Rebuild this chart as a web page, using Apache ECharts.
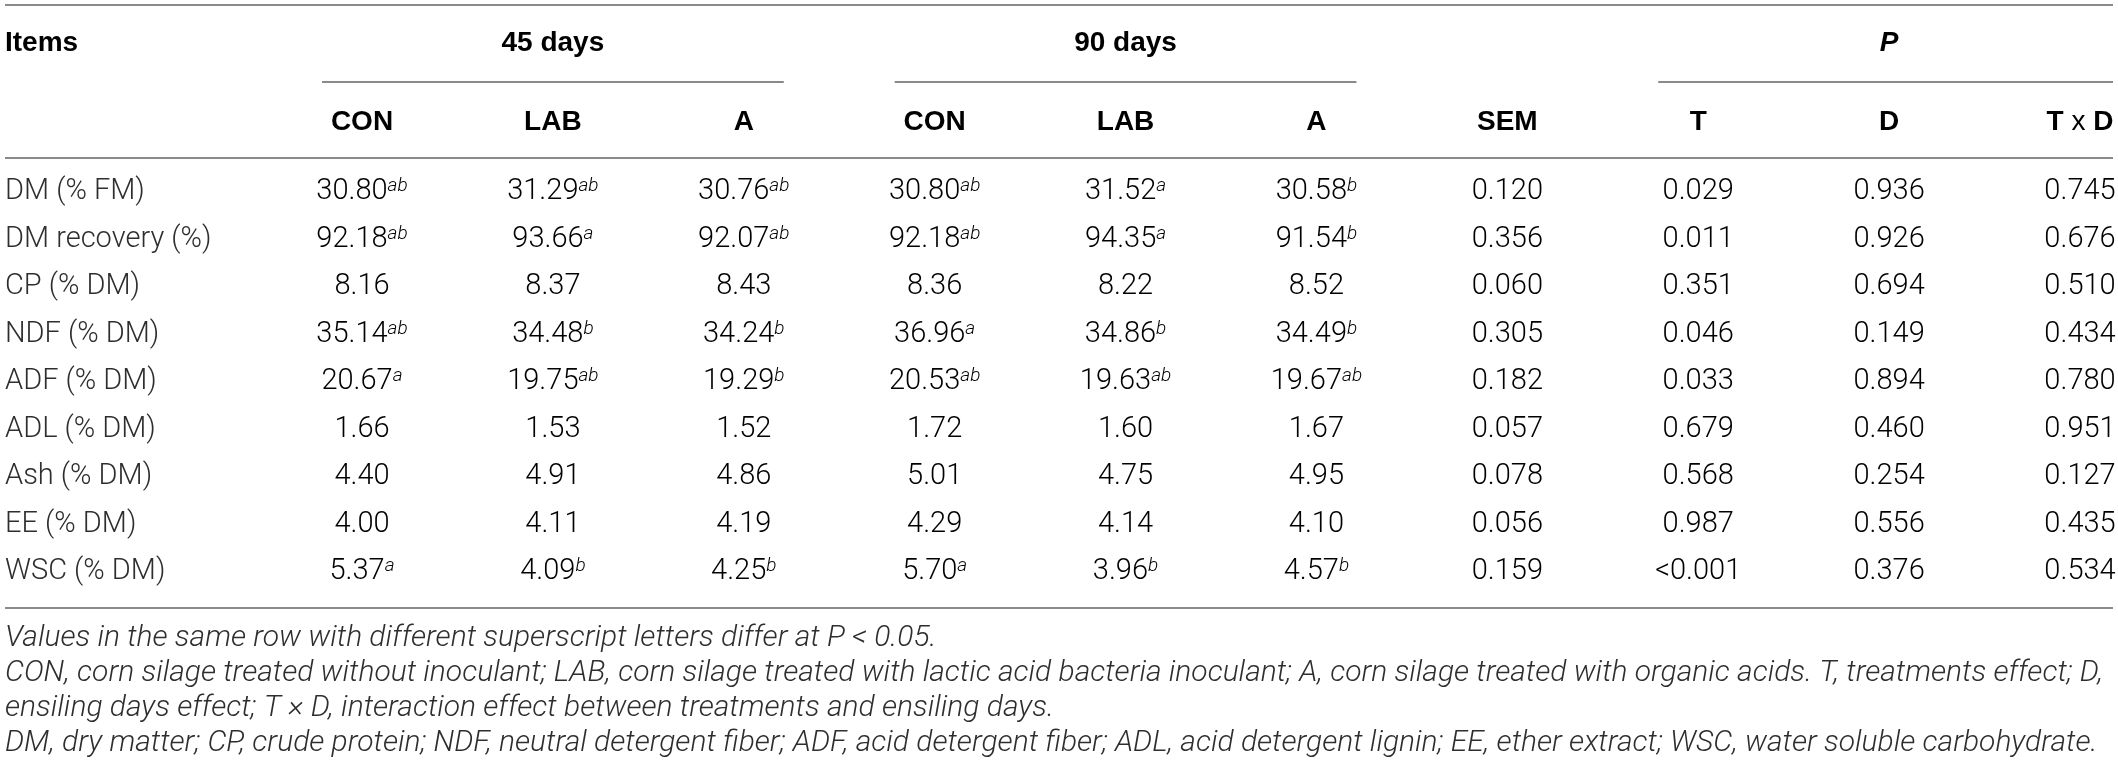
<!DOCTYPE html>
<html>
<head>
<meta charset="utf-8">
<script src="https://cdn.jsdelivr.net/npm/echarts@6/dist/echarts.min.js"></script>
<style>
html, body { margin: 0; padding: 0; background: #fff; }
#table { width: 2118px; height: 769px; }
</style>
</head>
<body>
<div id="table"></div>
<script>
// rows and columns of the table
var items = ['DM (% FM)', 'DM recovery (%)', 'CP (% DM)', 'NDF (% DM)', 'ADF (% DM)',
    'ADL (% DM)', 'Ash (% DM)', 'EE (% DM)', 'WSC (% DM)'];
var columns = ['CON', 'LAB', 'A', 'CON', 'LAB', 'A', 'SEM', 'T', 'D', 'T x D'];
var groups = [
    { name: '45 days', from: 0, to: 2 },
    { name: '90 days', from: 3, to: 5 },
    { name: 'P', from: 7, to: 9 }
];

// 45 days
var con45 = ['30.80', '92.18', '8.16', '35.14', '20.67', '1.66', '4.40', '4.00', '5.37'];
var con45Sup = ['ab', 'ab', '', 'ab', 'a', '', '', '', 'a'];
var lab45 = ['31.29', '93.66', '8.37', '34.48', '19.75', '1.53', '4.91', '4.11', '4.09'];
var lab45Sup = ['ab', 'a', '', 'b', 'ab', '', '', '', 'b'];
var a45 = ['30.76', '92.07', '8.43', '34.24', '19.29', '1.52', '4.86', '4.19', '4.25'];
var a45Sup = ['ab', 'ab', '', 'b', 'b', '', '', '', 'b'];

// 90 days
var con90 = ['30.80', '92.18', '8.36', '36.96', '20.53', '1.72', '5.01', '4.29', '5.70'];
var con90Sup = ['ab', 'ab', '', 'a', 'ab', '', '', '', 'a'];
var lab90 = ['31.52', '94.35', '8.22', '34.86', '19.63', '1.60', '4.75', '4.14', '3.96'];
var lab90Sup = ['a', 'a', '', 'b', 'ab', '', '', '', 'b'];
var a90 = ['30.58', '91.54', '8.52', '34.49', '19.67', '1.67', '4.95', '4.10', '4.57'];
var a90Sup = ['b', 'b', '', 'b', 'ab', '', '', '', 'b'];

var sem = ['0.120', '0.356', '0.060', '0.305', '0.182', '0.057', '0.078', '0.056', '0.159'];
var pT = ['0.029', '0.011', '0.351', '0.046', '0.033', '0.679', '0.568', '0.987', '<0.001'];
var pD = ['0.936', '0.926', '0.694', '0.149', '0.894', '0.460', '0.254', '0.556', '0.376'];
var pTD = ['0.745', '0.676', '0.510', '0.434', '0.780', '0.951', '0.127', '0.435', '0.534'];

var footnotes = [
    'Values in the same row with different superscript letters differ at P < 0.05.',
    'CON, corn silage treated without inoculant; LAB, corn silage treated with lactic acid bacteria inoculant; A, corn silage treated with organic acids. T, treatments effect; D,',
    'ensiling days effect; T \u00d7 D, interaction effect between treatments and ensiling days.',
    'DM, dry matter; CP, crude protein; NDF, neutral detergent fiber; ADF, acid detergent fiber; ADL, acid detergent lignin; EE, ether extract; WSC, water soluble carbohydrate.'
];
var justifiedNotes = [1]; // lines that run to the right edge in the source

var columnValues = [con45, lab45, a45, con90, lab90, a90, sem, pT, pD, pTD];
var columnSups = [con45Sup, lab45Sup, a45Sup, con90Sup, lab90Sup, a90Sup];

var cells = [];
columnValues.forEach(function (vals, c) {
    vals.forEach(function (v, r) {
        cells.push([c, r, v, (columnSups[c] || [])[r] || '']);
    });
});

// look of the table
var bodyFont = 'Roboto';
var headFont = '"Liberation Sans", Arial, sans-serif';
var bodyColor = '#2e2e2e';
var headColor = '#1a1a1a';
var ruleColor = '#8a8a8a';
var bodySize = 29;
var noteSize = 30;
var noteWidth = 2098;
var layout = { ruleLeft: 5, ruleRight: 5, topRule: 5, groupRule: 82, headRow1: 43, headRow2: 122, headRule: 158, bottomRule: 608, groupPad: 40 };

var richBody = {
    v: { fontFamily: bodyFont, fontWeight: 300, fontSize: bodySize, color: bodyColor, lineHeight: 30 },
    s: { fontFamily: bodyFont, fontWeight: 300, fontStyle: 'italic', fontSize: 19, color: bodyColor, lineHeight: 19, verticalAlign: 'top' }
};
var richHead = {
    b: { fontFamily: headFont, fontWeight: 'bold', fontSize: 28, color: headColor },
    i: { fontFamily: headFont, fontWeight: 'bold', fontStyle: 'italic', fontSize: 28, color: headColor },
    x: { fontFamily: headFont, fontSize: 28, color: headColor }
};

// spread the words of a footnote line so it fills the text width
var measure = document.createElement('canvas').getContext('2d');
measure.font = 'italic 300 ' + noteSize + 'px ' + bodyFont;
var gapWidth = 0;
function justify(line) {
    var words = line.split(' ');
    var used = 0;
    words.forEach(function (w) { used += measure.measureText(w).width; });
    gapWidth = (noteWidth - used) / (words.length - 1);
    return words.join('{g| }');
}
var noteText = footnotes.map(function (line, i) {
    return justifiedNotes.indexOf(i) >= 0 ? justify(line) : line;
}).join('\n');

function headText(x, y, text, align) {
    return {
        type: 'text', x: x, y: y,
        style: { text: text, rich: richHead, align: align || 'center', verticalAlign: 'middle' }
    };
}

function ruleLine(x1, x2, y) {
    return {
        type: 'line',
        shape: { x1: x1, y1: y, x2: x2, y2: y },
        style: { stroke: ruleColor, lineWidth: 2 }
    };
}

function renderCell(params, api) {
    var cell = cells[params.dataIndex];
    var p = api.coord([cell[0], cell[1]]);
    var text = '{v|' + cell[2] + '}' + (cell[3] ? '{s|' + cell[3] + '}' : '');
    return {
        type: 'text', x: p[0], y: p[1],
        style: { text: text, rich: richBody, align: 'center', verticalAlign: 'middle' }
    };
}

function renderFrame(params, api) {
    var right = api.getWidth() - layout.ruleRight;
    var children = [
        ruleLine(layout.ruleLeft, right, layout.topRule),
        ruleLine(layout.ruleLeft, right, layout.headRule),
        ruleLine(layout.ruleLeft, right, layout.bottomRule),
        headText(layout.ruleLeft, layout.headRow1, '{b|Items}', 'left')
    ];
    groups.forEach(function (g) {
        var a = api.coord([g.from, 0])[0];
        var b = api.coord([g.to, 0])[0];
        children.push(ruleLine(a - layout.groupPad, Math.min(b + layout.groupPad, right), layout.groupRule));
        var label = g.name === 'P' ? '{i|P}' : '{b|' + g.name + '}';
        children.push(headText((a + b) / 2, layout.headRow1, label));
    });
    columns.forEach(function (c, i) {
        var x = api.coord([i, 0])[0];
        var label = c.indexOf(' x ') > 0 ? '{b|T }{x|x}{b| D}' : '{b|' + c + '}';
        children.push(headText(x, layout.headRow2, label));
    });
    return { type: 'group', children: children };
}

var chart = echarts.init(document.getElementById('table'));

var option = {
    animation: false,
    title: {
        text: noteText,
        left: 5,
        top: 621,
        padding: 0,
        textStyle: {
            fontFamily: bodyFont, fontWeight: 300, fontStyle: 'italic',
            fontSize: noteSize, lineHeight: 35, color: bodyColor,
            rich: {
                g: {
                    width: gapWidth, fontFamily: bodyFont, fontWeight: 300, fontStyle: 'italic',
                    fontSize: noteSize, lineHeight: 35, color: bodyColor
                }
            }
        }
    },
    grid: { left: 362, right: 38, top: 168, height: 428 },
    xAxis: {
        type: 'category',
        data: columns,
        boundaryGap: false,
        show: false
    },
    yAxis: {
        type: 'category',
        data: items,
        inverse: true,
        axisLine: { show: false },
        axisTick: { show: false },
        splitLine: { show: false },
        axisLabel: {
            interval: 0,
            align: 'left',
            margin: 357,
            fontFamily: bodyFont,
            fontWeight: 300,
            fontSize: bodySize,
            color: bodyColor
        }
    },
    series: [
        {
            type: 'custom',
            name: 'frame',
            data: [[0, 0]],
            renderItem: renderFrame,
            silent: true
        },
        {
            type: 'custom',
            name: 'cells',
            data: cells.map(function (d) { return [d[0], d[1]]; }),
            renderItem: renderCell,
            silent: true
        }
    ]
};

chart.setOption(option);

window.onresize = chart.resize;
</script>
</body>
</html>
